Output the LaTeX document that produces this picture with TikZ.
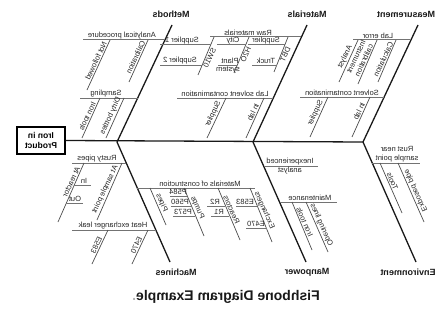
\documentclass[tikz,border=0pt]{standalone}
\usepackage{fontspec}
\setmainfont{Liberation Sans}
\usepackage{graphicx}
% every label is set in mirror writing
\newcommand\rv[1]{\reflectbox{#1}}
\newcommand\rvs[2]{\reflectbox{\shortstack{#1\\#2}}}
\begin{document}
\begin{tikzpicture}[x=1pt,y=-1pt,
  bone/.style={line width=1.3pt, black!90},
  twig/.style={line width=0.7pt, black!70},
  shelf/.style={line width=1pt, black!55},
  txt/.style={font=\fontsize{7.5}{8}\selectfont, text=black!85, inner sep=1pt},
  hlab/.style={txt, anchor=south},
  hlabb/.style={txt, anchor=north},
  dlab/.style={txt, anchor=south, rotate=65},
  dlabr/.style={txt, anchor=north, rotate=65},
  rlab/.style={txt, anchor=south, rotate=-66},
  cat/.style={font=\bfseries\fontsize{9}{10}\selectfont, text=black!90},
  headbox/.style={draw, line width=1.2pt, font=\bfseries\fontsize{8.5}{9.5}\selectfont,
    minimum width=48pt, minimum height=27pt, inner sep=2pt},
]
\useasboundingbox (0,0) rectangle (438,329);

% ---------------- head and spine ----------------
\node[headbox] (head) at (41,140.5) {\rvs{Iron in}{Product}};
\coordinate (j1) at (117,142);
\coordinate (j2) at (253,142);
\coordinate (j3) at (363,142);
\coordinate (t1) at (172,25);
\coordinate (t2) at (307,25);
\coordinate (t3) at (418,25);
\coordinate (b1) at (170,262);
\coordinate (b2) at (306,262);
\coordinate (b3) at (416,262);
\draw[bone] (head.east) -- (j3);
\draw[bone] (t1) -- (j1) -- (b1);
\draw[bone] (t2) -- (j2) -- (b2);
\draw[bone] (t3) -- (j3) -- (b3);

\node[cat] (methods) at (171,14) {\rv{Methods}};
\node[cat] (materials) at (307,14) {\rv{Materials}};
\node[cat] (measure) at (406,14) {\rv{Measurement}};
\node[cat] (machines) at (176,272) {\rv{Machines}};
\node[cat] (manpower) at (307,272) {\rv{Manpower}};
\node[cat] (environ) at (408,272) {\rv{Environment}};

% ---------------- Methods ----------------
\coordinate (ap1) at (83,40);  \coordinate (ap2) at (165,40);
\draw[shelf] (ap1) -- (ap2);
\node[hlab] (apL) at (122,40) {\rv{Analytical procedure}};
\coordinate (nf1) at (110,40); \coordinate (nf2) at (87,90);
\draw[twig] (nf1) -- (nf2) node[dlab,pos=.45] (nfL) {\rv{Not followed}};
\coordinate (cb1) at (148,40); \coordinate (cb2) at (129,82);
\draw[twig] (cb1) -- (cb2) node[dlab,pos=.45] (cbL) {\rv{Calibration}};

\coordinate (sm1) at (80,98);  \coordinate (sm2) at (138,98);
\draw[shelf] (sm1) -- (sm2);
\node[hlab] (smL) at (106,98) {\rv{Sampling}};
\coordinate (it1) at (100,98); \coordinate (it2) at (82,138);
\draw[twig] (it1) -- (it2) node[dlab,pos=.5] (itL) {\rv{Iron tools}};
\coordinate (db1) at (124,98); \coordinate (db2) at (106,138);
\draw[twig] (db1) -- (db2) node[dlab,pos=.5] (dbL) {\rv{Dirty bottles}};

% ---------------- Materials ----------------
\coordinate (rm1) at (210,37); \coordinate (rm2) at (301,37);
\draw[shelf] (rm1) -- (rm2);
\node[hlab] (rmL) at (248,37) {\rv{Raw materials}};
\coordinate (sa1) at (214,37); \coordinate (sa2) at (198,75);
\draw[twig] (sa1) -- (sa2) node[dlabr,pos=.5] (saL) {\rv{SW10}};
\coordinate (s11) at (160,45); \coordinate (s12) at (210.6,45);
\draw[shelf] (s11) -- (s12);
\node[hlab] (s1L) at (182,45) {\rv{Supplier 1}};
\coordinate (s21) at (160,65); \coordinate (s22) at (202,65);
\draw[shelf] (s21) -- (s22);
\node[hlab] (s2L) at (180,65) {\rv{Supplier 2}};

\coordinate (hw1) at (249,37); \coordinate (hw2) at (234,73);
\draw[twig] (hw1) -- (hw2) node[dlabr,pos=.45] (hwL) {\rv{H2O}};
\coordinate (ct1) at (217,45); \coordinate (ct2) at (245.6,45);
\draw[shelf] (ct1) -- (ct2);
\node[hlab] (ctL) at (233,45) {\rv{City}};
\coordinate (ps1) at (218,65); \coordinate (ps2) at (237,65);
\draw[shelf] (ps1) -- (ps2);
\node[hlab] (psL) at (230,65) {\rv{Plant}};
\node[hlabb] (psL2) at (228,65) {\rv{system}};

\coordinate (dt1) at (288,37); \coordinate (dt2) at (274,72);
\draw[twig] (dt1) -- (dt2) node[dlabr,pos=.45] (dtL) {\rv{DBT}};
\coordinate (sp1) at (248,45); \coordinate (sp2) at (284.6,45);
\draw[shelf] (sp1) -- (sp2);
\node[hlab] (spL) at (266,45) {\rv{Supplier}};
\coordinate (tr1) at (252,65); \coordinate (tr2) at (276.6,65);
\draw[shelf] (tr1) -- (tr2);
\node[hlab] (trL) at (266,65) {\rv{Truck}};

\coordinate (ls1) at (177,98); \coordinate (ls2) at (273,98);
\draw[shelf] (ls1) -- (ls2);
\node[hlab] (lsL) at (225,98) {\rv{Lab solvent contamination}};
\coordinate (su1) at (226,98); \coordinate (su2) at (207,138);
\draw[twig] (su1) -- (su2) node[dlab,pos=.45] (suL) {\rv{Supplier}};
\coordinate (il1) at (264,98); \coordinate (il2) at (246,138);
\draw[twig] (il1) -- (il2) node[dlab,pos=.4] (ilL) {\rv{In lab}};

% ---------------- Measurement ----------------
\coordinate (le1) at (353,40); \coordinate (le2) at (411,40);
\draw[shelf] (le1) -- (le2);
\node[hlab] (leL) at (378,40) {\rv{Lab error}};
\coordinate (an1) at (358,40); \coordinate (an2) at (339,82);
\draw[twig] (an1) -- (an2) node[dlab,pos=.45] (anL) {\rv{Analyst}};
\coordinate (ic1) at (377,40); \coordinate (ic2) at (358,84);
\draw[twig] (ic1) -- (ic2) node[dlab,pos=.5] (icL) {\rvs{Instrument}{calibration}};
\coordinate (cl1) at (396,40); \coordinate (cl2) at (378,82);
\draw[twig] (cl1) -- (cl2) node[dlab,pos=.5] (clL) {\rv{Calculation}};

\coordinate (sc1) at (300,97); \coordinate (sc2) at (384,97);
\draw[shelf] (sc1) -- (sc2);
\node[hlab] (scL) at (342,97) {\rv{Solvent contamination}};
\coordinate (ms1) at (328,97); \coordinate (ms2) at (310,137);
\draw[twig] (ms1) -- (ms2) node[dlab,pos=.45] (msL) {\rv{Supplier}};
\coordinate (ml1) at (370,97); \coordinate (ml2) at (352,137);
\draw[twig] (ml1) -- (ml2) node[dlab,pos=.4] (mlL) {\rv{In lab}};

% ---------------- Machines ----------------
\coordinate (rp1) at (72,163); \coordinate (rp2) at (126,163);
\draw[shelf] (rp1) -- (rp2);
\node[hlab] (rpL) at (97,163) {\rv{Rusty pipes}};
\coordinate (ar1) at (84,163); \coordinate (ar2) at (58,222);
\draw[twig] (ar1) -- (ar2) node[dlab,pos=.35] (arL) {\rv{At reactor}};
\coordinate (in1) at (74,185); \coordinate (in2) at (91,185);
\draw[shelf] (in1) -- (in2);
\node[hlab] (inL) at (84,185) {\rv{In}};
\coordinate (ou1) at (66,203); \coordinate (ou2) at (83,203);
\draw[shelf] (ou1) -- (ou2);
\node[hlab] (ouL) at (75,203) {\rv{Out}};
\coordinate (as1) at (122,163); \coordinate (as2) at (97,220);
\draw[twig] (as1) -- (as2) node[dlab,pos=.5] (asL) {\rv{At sample point}};

\coordinate (hx1) at (72,230); \coordinate (hx2) at (156,230);
\draw[shelf] (hx1) -- (hx2);
\node[hlab] (hxL) at (113,230) {\rv{Heat exchanger leak}};
\coordinate (ea1) at (108,230); \coordinate (ea2) at (92,264);
\draw[twig] (ea1) -- (ea2) node[dlab,pos=.5] (eaL) {\rv{E583}};
\coordinate (eb1) at (148,230); \coordinate (eb2) at (132,264);
\draw[twig] (eb1) -- (eb2) node[dlab,pos=.5] (ebL) {\rv{E470}};

\coordinate (mc1) at (137,188); \coordinate (mc2) at (255,188);
\draw[shelf] (mc1) -- (mc2);
\node[hlab] (mcL) at (200,188) {\rv{Materials of construction}};
\coordinate (pi1) at (150,188); \coordinate (pi2) at (166,225);
\draw[twig] (pi1) -- (pi2) node[rlab,pos=.45] (piL) {\rv{Pipes}};
\coordinate (pu1) at (184,188); \coordinate (pu2) at (204,236);
\draw[twig] (pu1) -- (pu2) node[rlab,pos=.45] (puL) {\rv{Pumps}};
\coordinate (pa1) at (170,196); \coordinate (pa2) at (187,196);
\draw[shelf] (pa1) -- (pa2);
\node[hlab] (paL) at (178,196) {\rv{P584}};
\coordinate (pb1) at (171,206); \coordinate (pb2) at (191,206);
\draw[shelf] (pb1) -- (pb2);
\node[hlab] (pbL) at (180,206) {\rv{P560}};
\coordinate (pc1) at (173,216); \coordinate (pc2) at (195,216);
\draw[shelf] (pc1) -- (pc2);
\node[hlab] (pcL) at (183,216) {\rv{P573}};
\coordinate (re1) at (218,188); \coordinate (re2) at (240,240);
\draw[twig] (re1) -- (re2) node[rlab,pos=.45] (reL) {\rv{Reactors}};
\coordinate (ra1) at (207,206); \coordinate (ra2) at (225,206);
\draw[shelf] (ra1) -- (ra2);
\node[hlab] (raL) at (215,206) {\rv{R2}};
\coordinate (rb1) at (211,216); \coordinate (rb2) at (229,216);
\draw[shelf] (rb1) -- (rb2);
\node[hlab] (rbL) at (219,216) {\rv{R1}};
\coordinate (ex1) at (250,188); \coordinate (ex2) at (272,242);
\draw[twig] (ex1) -- (ex2) node[rlab,pos=.45] (exL) {\rv{Exchangers}};
\coordinate (xa1) at (236,206); \coordinate (xa2) at (257,206);
\draw[shelf] (xa1) -- (xa2);
\node[hlab] (xaL) at (245,206) {\rv{E583}};
\coordinate (xb1) at (246,228); \coordinate (xb2) at (267,228);
\draw[shelf] (xb1) -- (xb2);
\node[hlab] (xbL) at (256,228) {\rv{E470}};

% ---------------- Manpower ----------------
\coordinate (ia1) at (264,166); \coordinate (ia2) at (318,166);
\draw[shelf] (ia1) -- (ia2);
\node[hlab] (iaL) at (290,166) {\rv{Inexperienced}};
\node[hlabb] (iaL2) at (290,166) {\rv{analyst}};
\coordinate (mt1) at (280,202); \coordinate (mt2) at (337,202);
\draw[shelf] (mt1) -- (mt2);
\node[hlab] (mtL) at (310,202) {\rv{Maintenance}};
\coordinate (ti1) at (292,202); \coordinate (ti2) at (312,250);
\draw[twig] (ti1) -- (ti2) node[rlab,pos=.45] (tiL) {\rv{Iron tools}};
\coordinate (ol1) at (306,202); \coordinate (ol2) at (328,252);
\draw[twig] (ol1) -- (ol2) node[rlab,pos=.5] (olL) {\rv{Opening lines}};

% ---------------- Environment ----------------
\coordinate (rn1) at (372,163); \coordinate (rn2) at (420,163);
\draw[shelf] (rn1) -- (rn2);
\node[hlab] (rnL) at (397,163) {\rvs{Rust near}{sample point}};
\coordinate (to1) at (380,163); \coordinate (to2) at (402,213);
\draw[twig] (to1) -- (to2) node[rlab,pos=.4] (toL) {\rv{Tools}};
\coordinate (ep1) at (398,163); \coordinate (ep2) at (424,222);
\draw[twig] (ep1) -- (ep2) node[rlab,pos=.5] (epL) {\rv{Exposed pipe}};

% ---------------- caption ----------------
\node[font=\bfseries\fontsize{14}{16}\selectfont, text=black!90] (title) at (226,297)
  {\rv{Fishbone Diagram Example\textcolor{black!30}{.}}};
\end{tikzpicture}
\end{document}
